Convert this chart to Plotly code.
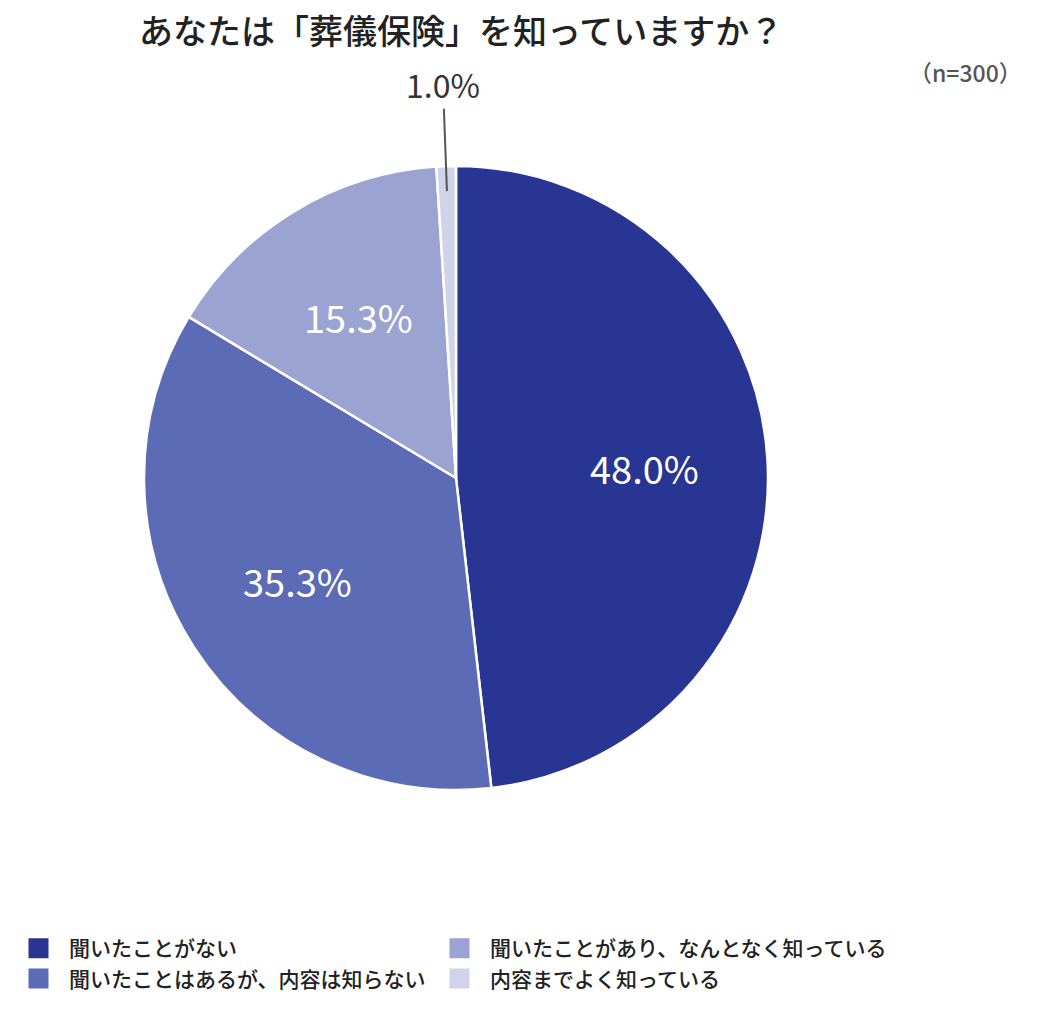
import math
import plotly.graph_objects as go

categories = ["聞いたことがない", "聞いたことはあるが、内容は知らない",
              "聞いたことがあり、なんとなく知っている", "内容までよく知っている"]
values = [48.0, 35.3, 15.3, 1.0]
colors = ["#283593", "#5c6bb5", "#9aa3d1", "#d0d3ea"]
title_text = "あなたは「葬儀保険」を知っていますか？"
sample_note = "（n=300）"

W, H = 1040, 1016
FONT = "Noto Sans CJK JP"
CX, CY, R = 456, 478, 312  # pie centre / radius in px

fig = go.Figure()
fig.add_trace(go.Pie(
    labels=categories, values=values, sort=False, direction="clockwise", rotation=0,
    marker=dict(colors=colors, line=dict(color="white", width=2.5)),
    textinfo="none", hoverinfo="label+percent", showlegend=False,
    domain=dict(x=[(CX - R) / W, (CX + R) / W], y=[(H - CY - R) / H, (H - CY + R) / H]),
))

# legend: two columns -> two vertical legends
for i, c in enumerate(categories):
    fig.add_trace(go.Scatter(
        x=[None], y=[None], mode="markers", name=c,
        marker=dict(symbol="square", size=16, color=colors[i],
                    line=dict(color=colors[i], width=4)),
        showlegend=True, hoverinfo="skip",
        legend="legend" if i < 2 else "legend2",
    ))

# slice labels, placed along each slice's mid-angle (pie normalises by the total)
total = sum(values)
cum = 0.0
for c, v in zip(categories, values):
    mid = (cum + v / 2) / total * 2 * math.pi
    cum += v
    if v >= 5:
        px = CX + 0.605 * R * math.sin(mid)
        py = CY - 0.605 * R * math.cos(mid)
        fig.add_annotation(x=px / W, y=(H - py) / H, xref="paper", yref="paper",
                           xanchor="center", yanchor="middle",
                           showarrow=False, text=f"{v:.1f}%",
                           font=dict(family=FONT, size=38, color="white"))
    else:
        ex = CX + 0.92 * R * math.sin(mid)
        ey = CY - 0.92 * R * math.cos(mid)
        fig.add_annotation(x=ex / W, y=(H - ey) / H, xref="paper", yref="paper",
                           text=f"{v:.1f}%", showarrow=True, arrowhead=0, arrowwidth=2,
                           arrowcolor="#555555", ax=-4, ay=-107,
                           font=dict(family=FONT, size=32, color="#333333"))

fig.add_annotation(x=137 / W, y=1 - 30 / H, xref="paper", yref="paper",
                   xanchor="left", yanchor="middle", showarrow=False,
                   text=title_text, font=dict(family=FONT, size=34, color="#222222", weight=500))
fig.add_annotation(x=1024 / W, y=1 - 72 / H, xref="paper", yref="paper",
                   xanchor="right", yanchor="middle", showarrow=False,
                   text=sample_note, font=dict(family=FONT, size=23, color="#555555", weight=500))

legend_common = dict(orientation="v", xanchor="left", yanchor="top", itemwidth=51,
                     font=dict(family=FONT, size=21, color="#222222", weight=500),
                     tracegroupgap=0, itemsizing="trace", traceorder="normal",
                     bgcolor="rgba(0,0,0,0)")

fig.update_layout(
    width=W, height=H, margin=dict(l=0, r=0, t=0, b=0),
    paper_bgcolor="white", plot_bgcolor="white",
    xaxis=dict(visible=False), yaxis=dict(visible=False),
    legend=dict(x=8 / W, y=1 - 928 / H, **legend_common),
    legend2=dict(x=429 / W, y=1 - 928 / H, **legend_common),
)

fig.write_html("out.html")
